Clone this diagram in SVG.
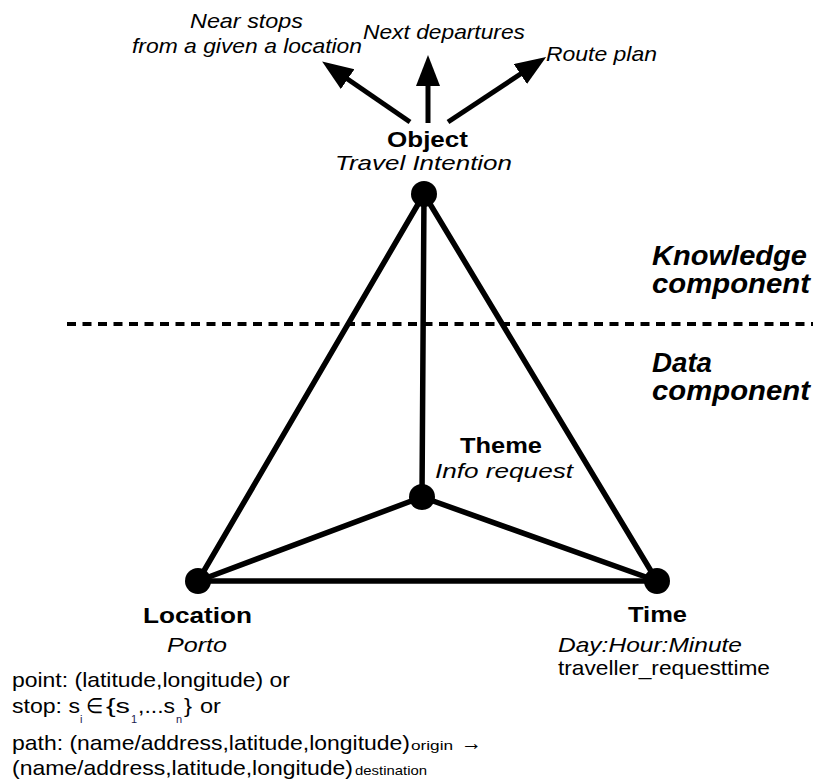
<svg xmlns="http://www.w3.org/2000/svg" width="813" height="782" viewBox="0 0 813 782">
  <style>
    text { font-family: "Liberation Sans", Arial, sans-serif; fill: #000; }
    .it { font-style: italic; font-size: 21px; }
    .bd { font-weight: bold; font-size: 22px; }
    .bi { font-weight: bold; font-style: italic; font-size: 27px; }
    .rg { font-size: 21px; }
    .sm { font-size: 13px; }
    .sub { font-size: 11px; fill: #1c2150; }
    .edge { stroke: #000; stroke-width: 5.5; stroke-linecap: round; fill: none; }
    .arrow { stroke: #000; stroke-width: 5; fill: none; }
    .node { fill: #000; }
  </style>
  <defs>
    <marker id="head" markerUnits="userSpaceOnUse" markerWidth="34" markerHeight="26" refX="2" refY="12" orient="auto">
      <path d="M0,0 L31,12 L0,24 z" fill="#000"/>
    </marker>
  </defs>
  <rect width="813" height="782" fill="#fff"/>

  <!-- boundary between knowledge and data layers -->
  <line x1="67" y1="324" x2="813" y2="324" stroke="#000" stroke-width="4" stroke-dasharray="9 6.5"/>

  <g id="connectors">
    <line class="edge" x1="424" y1="194" x2="198" y2="581"/>
    <line class="edge" x1="424" y1="194" x2="657" y2="581"/>
    <line class="edge" x1="424" y1="194" x2="422" y2="497"/>
    <line class="edge" x1="422" y1="497" x2="198" y2="581"/>
    <line class="edge" x1="422" y1="497" x2="657" y2="581"/>
    <line class="edge" x1="198" y1="581" x2="657" y2="581"/>
    <line class="arrow" x1="410" y1="122" x2="346" y2="78" marker-end="url(#head)"/>
    <line class="arrow" x1="428" y1="123" x2="428" y2="84" marker-end="url(#head)"/>
    <line class="arrow" x1="448" y1="122" x2="522" y2="73" marker-end="url(#head)"/>
  </g>

  <g id="outputs">
    <text class="it" x="190" y="28" textLength="113" lengthAdjust="spacingAndGlyphs">Near stops</text>
    <text class="it" x="132" y="53" textLength="230" lengthAdjust="spacingAndGlyphs">from a given a location</text>
    <text class="it" x="363" y="39" textLength="162" lengthAdjust="spacingAndGlyphs">Next departures</text>
    <text class="it" x="546" y="61" textLength="111" lengthAdjust="spacingAndGlyphs">Route plan</text>
  </g>

  <g id="object">
    <circle class="node" cx="424" cy="194" r="13"/>
    <text class="bd" x="387" y="147" textLength="81" lengthAdjust="spacingAndGlyphs">Object</text>
    <text class="it" x="335" y="170" textLength="177" lengthAdjust="spacingAndGlyphs">Travel Intention</text>
  </g>

  <g id="theme">
    <circle class="node" cx="422" cy="497" r="13"/>
    <text class="bd" x="460" y="453" textLength="82" lengthAdjust="spacingAndGlyphs">Theme</text>
    <text class="it" x="435" y="478" textLength="138" lengthAdjust="spacingAndGlyphs">Info request</text>
  </g>

  <g id="location">
    <circle class="node" cx="198" cy="581" r="13"/>
    <text class="bd" x="143" y="623" textLength="109" lengthAdjust="spacingAndGlyphs">Location</text>
    <text class="it" x="167" y="652" textLength="60" lengthAdjust="spacingAndGlyphs">Porto</text>
    <text class="rg" x="12" y="687" textLength="278" lengthAdjust="spacingAndGlyphs">point: (latitude,longitude) or</text>
    <text class="rg" x="12" y="713" textLength="68" lengthAdjust="spacingAndGlyphs">stop: s</text>
    <text class="sub" x="80" y="723">i</text>
    <text class="rg" x="86" y="713" textLength="17" lengthAdjust="spacingAndGlyphs">∈</text>
    <text class="rg" x="106" y="713" textLength="24" lengthAdjust="spacingAndGlyphs">{s</text>
    <text class="sub" x="131" y="723">1</text>
    <text class="rg" x="138" y="713" textLength="37" lengthAdjust="spacingAndGlyphs">,...s</text>
    <text class="sub" x="176" y="723">n</text>
    <text class="rg" x="184" y="713" textLength="8" lengthAdjust="spacingAndGlyphs">}</text>
    <text class="rg" x="200" y="713" textLength="21" lengthAdjust="spacingAndGlyphs">or</text>
    <text class="rg" x="12" y="750" textLength="398" lengthAdjust="spacingAndGlyphs">path:  (name/address,latitude,longitude)</text>
    <text class="sm" x="411" y="750" textLength="42" lengthAdjust="spacingAndGlyphs">origin</text>
    <text class="rg" x="461" y="750">→</text>
    <text class="rg" x="12" y="775" textLength="341" lengthAdjust="spacingAndGlyphs">(name/address,latitude,longitude)</text>
    <text class="sm" x="355" y="775" textLength="72" lengthAdjust="spacingAndGlyphs">destination</text>
  </g>

  <g id="time">
    <circle class="node" cx="657" cy="581" r="13"/>
    <text class="bd" x="628" y="622" textLength="59" lengthAdjust="spacingAndGlyphs">Time</text>
    <text class="it" x="558" y="652" textLength="184" lengthAdjust="spacingAndGlyphs">Day:Hour:Minute</text>
    <text class="rg" x="558" y="675" textLength="212" lengthAdjust="spacingAndGlyphs">traveller_requesttime</text>
  </g>

  <g id="layers">
    <text class="bi" x="652" y="265" textLength="155" lengthAdjust="spacingAndGlyphs">Knowledge</text>
    <text class="bi" x="652" y="293" textLength="158" lengthAdjust="spacingAndGlyphs">component</text>
    <text class="bi" x="652" y="372" textLength="60" lengthAdjust="spacingAndGlyphs">Data</text>
    <text class="bi" x="652" y="400" textLength="158" lengthAdjust="spacingAndGlyphs">component</text>
  </g>
</svg>
